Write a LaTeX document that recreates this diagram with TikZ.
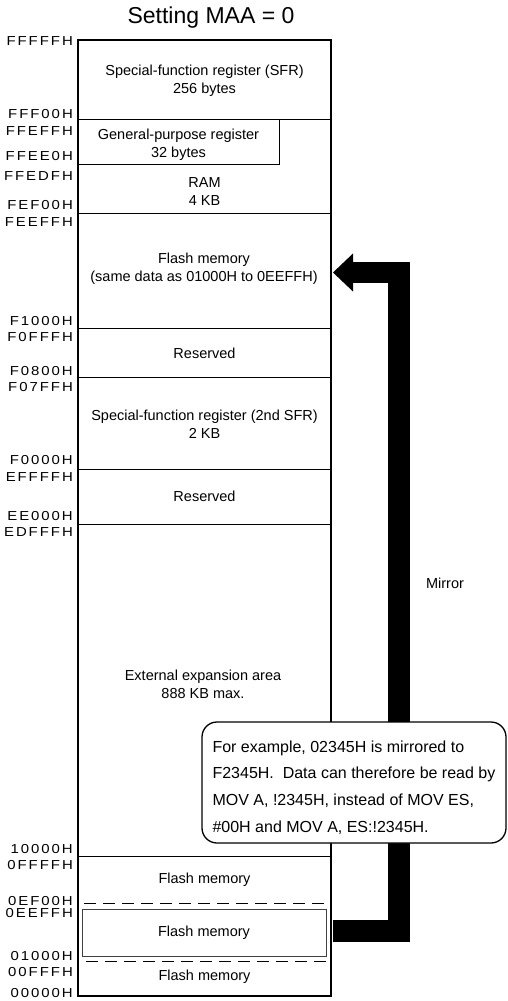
\documentclass[tikz,border=0pt]{standalone}
\usepackage{fontspec}
\setmainfont{Liberation Sans}
\newfontfamily\addrfont[LetterSpace=15,FakeStretch=1.15]{Liberation Sans}
\usetikzlibrary{arrows.meta}

\tikzset{
  addr/.style={anchor=east, font=\addrfont\fontsize{13}{13}\selectfont},
  area/.style={align=center},
  sepline/.style={line width=0.9pt},
  mirror/.style={line width=21.5pt, line join=miter, -{Triangle[length=20pt, width=38pt, line width=0pt]}},
  notebox/.style={draw, fill=white, rounded corners=15pt, line width=1.3pt, minimum width=304pt, minimum height=121pt},
  notetext/.style={align=left, font=\fontsize{16}{26.7}\selectfont}
}

\begin{document}
\begin{tikzpicture}[x=1pt, y=-1pt, every node/.style={font=\fontsize{14.5}{18}\selectfont, inner sep=0pt}]
\useasboundingbox (0,0) rectangle (508,1001);

\node (title) at (211,18) {\fontsize{23}{23}\selectfont Setting MAA = 0};

% memory map
\draw[line width=1.5pt] (78,40) rectangle (331,996);
\foreach \y in {119,213,328,377,469,524,856}
  \draw[sepline] (78,\y) -- (331,\y);
\draw[sepline] (78,164) -| (279,119);
\draw[sepline, dash pattern=on 12pt off 7pt] (84,903) -- (331,903);
\draw[sepline, dash pattern=on 12pt off 7pt] (86,961) -- (331,961);
\draw[line width=0.8pt, black!75] (82,909) rectangle (326,956);

\node[area] (sfr) at (204.5,80.5) {Special-function register (SFR)\\256 bytes};
\node[area] (gpr) at (178.5,144.5) {General-purpose register\\32 bytes};
\node[area] (ram) at (204.5,192) {RAM\\4 KB};
\node[area] (flashhi) at (204,269) {Flash memory\\(same data as 01000H to 0EEFFH)};
\node[area] (resv1) at (204.5,353) {Reserved};
\node[area] (sfr2) at (204.5,424) {Special-function register (2nd SFR)\\2 KB};
\node[area] (resv2) at (204.5,496) {Reserved};
\node[area] (ext) at (203,684) {External expansion area\\888 KB max.};
\node[area] (flashmid) at (204.5,880) {Flash memory};
\node[area] (flashlow) at (204,933) {Flash memory};
\node[area] (flashbot) at (204.5,977) {Flash memory};

% addresses
\foreach \y/\t in {41/FFFFFH, 114/FFF00H, 131/FFEFFH, 156/FFEE0H, 176/FFEDFH,
    205/FEF00H, 222/FEEFFH, 321/F1000H, 337/F0FFFH, 371/F0800H, 387/F07FFH,
    460/F0000H, 477/EFFFFH, 516/EE000H, 532/EDFFFH, 849/10000H, 865/0FFFFH,
    901/0EF00H, 913/0EEFFH, 956/01000H, 972/00FFFH, 993.5/00000H}
  \node[addr] (a-\t) at (73,\y) {\t};

% mirror arrow
\coordinate (mirfrom) at (333,931);
\coordinate (mirto) at (333,272.5);
\draw[mirror] (mirfrom) -- ++(66,0) |- (mirto);
\node (mirlabel) at (445,583) {Mirror};

\node[notebox] (note) at (354,782.5) {};
\node[notetext, anchor=west] (notetext) at ([xshift=11pt,yshift=-5pt]note.west)
  {For example, 02345H is mirrored to\\F2345H.\ \ Data can therefore be read by\\MOV A, !2345H, instead of MOV ES,\\\#00H and MOV A, ES:!2345H.};
\end{tikzpicture}
\end{document}
